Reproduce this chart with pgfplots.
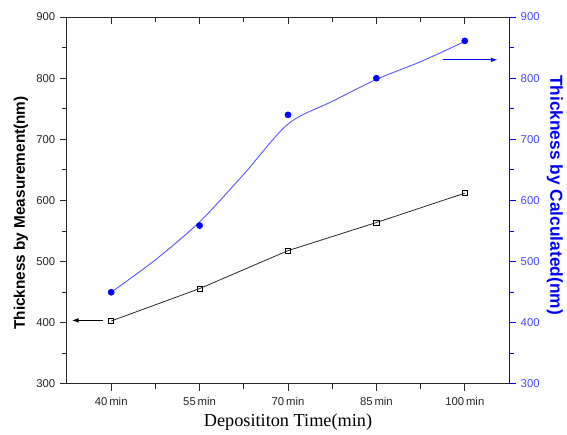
\documentclass[border=0pt]{standalone}
\usepackage{fontspec}
\setmainfont{Liberation Sans}
\newfontfamily\timesfont{Liberation Serif}
\usepackage{pgfplots}
\usepackage{pgfplotstable}
\pgfplotsset{compat=1.18}
\usetikzlibrary{arrows.meta}

\definecolor{calcblue}{RGB}{0,0,255}
\definecolor{calcline}{RGB}{90,90,255}
\definecolor{calctick}{RGB}{70,70,255}
\definecolor{framegray}{RGB}{40,40,40}

% measured thickness (left axis)
\pgfplotstableread{
x meas
0 403
1 456
2 518
3 564
4 612
}\meastable
% calculated thickness (right axis), points
\pgfplotstableread{
x calc
0 450
1 559
2 740
3 800
4 861
}\calctable
% fitted curve
\pgfplotstableread{
x fit
0    450
0.5  503
1    565
1.5  643
2    725
2.5  762
3    798
3.5  827
4    860
}\fittable

\pgfplotsset{
  base/.style={
    scale only axis,
    width=331.5pt, height=275.25pt,
    xmin=-0.5, xmax=4.5,
    ymin=300, ymax=900,
    xtick={0,...,4},
    ytick={300,400,...,900},
    minor x tick num=1,
    minor y tick num=1,
    major tick length=5.25pt,
    minor tick length=3.5pt,
    axis line style={framegray, line width=0.75pt},
    every tick/.style={framegray, line width=0.75pt},
    tick label style={font=\fontsize{8.5}{10}\selectfont},
    /pgf/number format/assume math mode=true,
  },
}

\begin{document}
\begin{tikzpicture}
\useasboundingbox (-50.25pt,-38.25pt) rectangle (375pt,288pt);

% left / bottom axis
\begin{axis}[base,
  xtick pos=bottom, ytick pos=left, tick align=outside,
  xticklabels={40\,min,55\,min,70\,min,85\,min,100\,min},
  yticklabel style={text=black!85},
  xticklabel style={text=black!85, yshift=-1.5pt},
  xlabel={\timesfont\fontsize{13.7}{16}\selectfont Deposititon Time(min)},
  xlabel style={at={(axis description cs:0.5,0)}, anchor=north, inner sep=0pt, yshift=-22pt},
  ylabel={\fontsize{11.5}{14}\selectfont\bfseries Thickness by Measurement(nm)},
  ylabel style={at={(axis description cs:-0.104,0.466)}, anchor=center, inner sep=0pt},
]
\addplot[framegray, line width=0.6pt, mark=square, mark size=1.9pt,
  mark options={black, fill=white, line width=0.6pt}] table[x=x, y=meas] {\meastable};
\draw[black, line width=0.7pt, -{Latex[length=5pt,width=3.5pt]}]
  (axis cs:-0.09,404) -- (axis cs:-0.445,404);
\end{axis}

% top ticks pointing inwards
\begin{axis}[base,
  axis x line*=top, axis y line=none,
  tick align=inside,
  xticklabels={},
]
\addplot[draw=none] coordinates {(0,300)};
\end{axis}

% right axis, blue
\begin{axis}[base,
  axis x line=none, axis y line*=right,
  tick align=outside,
  y axis line style={calcblue, line width=0.75pt},
  y tick style={calcblue, line width=0.75pt},
  yticklabel style={text=calctick},
  ylabel={\fontsize{13}{15}\selectfont\bfseries Thickness by Calculated(nm)},
  ylabel style={at={(axis description cs:1.104,0.515)}, anchor=center, inner sep=0pt,
    rotate=180, text=calcblue},
]
\addplot[calcline, line width=0.7pt, smooth, tension=0.5] table[x=x, y=fit] {\fittable};
\addplot[only marks, mark=*, mark size=2.3pt, calcblue] table[x=x, y=calc] {\calctable};
\draw[calcblue, line width=0.7pt, -{Latex[length=5pt,width=3.5pt]}]
  (axis cs:3.75,830) -- (axis cs:4.37,830);
\end{axis}
\end{tikzpicture}
\end{document}
